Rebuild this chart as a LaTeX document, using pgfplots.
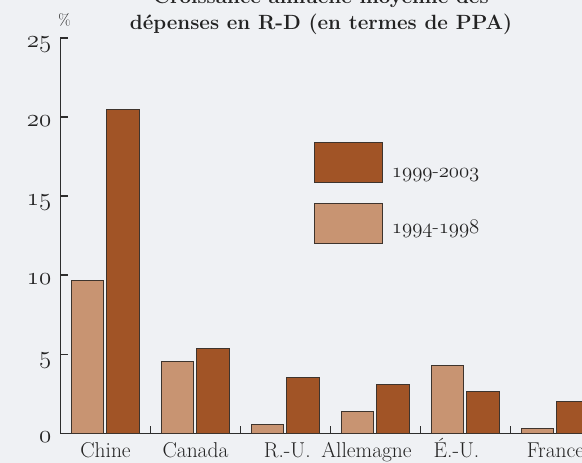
\documentclass[border=0pt]{standalone}
\usepackage{pgfplots}
\pgfplotsset{compat=1.18}
\definecolor{bg}{RGB}{239,241,244}
\definecolor{darkbar}{RGB}{161,84,38}
\definecolor{lightbar}{RGB}{200,148,114}
\definecolor{edge}{RGB}{62,52,45}
\definecolor{axisc}{RGB}{45,45,45}
\definecolor{txt}{RGB}{35,35,35}
\newcommand\osf[1]{{\fontencoding{OML}\fontfamily{lmm}\fontseries{m}\fontshape{it}\selectfont #1}}
\begin{document}
\begin{tikzpicture}[x=1pt,y=1pt]
\path[use as bounding box, clip] (0,0) rectangle (582,-463);
\fill[bg] (0,0) rectangle (582,-463);
\begin{axis}[
  at={(60.5pt,-433.5pt)}, anchor=south west,
  scale only axis, width=540pt, height=395.5pt,
  xmin=0, xmax=6, ymin=0, ymax=25,
  ybar, bar width=0.36, bar shift=0pt,
  axis x line=bottom, axis y line=left,
  axis line style={-, line width=1.8pt, draw=axisc},
  tick align=inside,
  major tick length=8pt,
  tick style={line width=1.8pt, draw=axisc},
  xtick={1,2,3,4,5}, xticklabels={,,,,},
  extra x ticks={0.5,1.5,2.52,3.4,4.4,5.5},
  extra x tick labels={Chine,Canada,R.-U.,Allemagne,É.-U.,France},
  extra x tick style={tick style={draw=none}},
  xticklabel style={anchor=base, yshift=-23.5pt, text=txt, font=\fontsize{21.5}{22}\selectfont},
  ytick={0,5,10,15,20,25},
  yticklabels={\osf{0},\osf{5},\osf{10},\osf{15},\osf{20},\osf{25}},
  yticklabel style={anchor=north east, inner sep=0pt, xshift=-9pt, yshift=1.5pt, text=txt, font=\fontsize{23}{23}\selectfont},
  legend image code/.code={\draw[#1] (0pt,-5.6pt) rectangle (68pt,35pt);},
  legend style={at={(axis description cs:0.4694,0.7378)}, anchor=north west,
    draw=none, fill=none, inner sep=0pt, outer sep=0pt,
    row sep=19.4pt, column sep=9pt,
    nodes={inner sep=0pt, anchor=base west, text=txt},
    font=\fontsize{20.5}{20.5}\selectfont},
  legend cell align=left,
]
\addplot[fill=darkbar, draw=edge, line width=1pt]
  coordinates {(0.695,20.45) (1.695,5.38) (2.695,3.56) (3.695,3.10) (4.695,2.68) (5.695,2.00)};
\addlegendentry{\osf{1999}-\osf{2003}}
\addplot[fill=lightbar, draw=edge, line width=1pt]
  coordinates {(0.3,9.70) (1.3,4.53) (2.3,0.57) (3.3,1.39) (4.3,4.33) (5.3,0.30)};
\addlegendentry{\raisebox{5pt}{\osf{1994}-\osf{1998}}}
\end{axis}
\node[anchor=base, text=txt, font=\fontsize{20.6}{24}\selectfont\bfseries] at (321,-3) {Croissance annuelle moyenne des};
\node[anchor=base, text=txt, font=\fontsize{20.6}{24}\selectfont\bfseries] at (321,-30) {dépenses en R-D (en termes de PPA)};
\node[anchor=base, text=txt, font=\fontsize{16}{16}\selectfont] at (64.5,-25) {\%};
\end{tikzpicture}
\end{document}
